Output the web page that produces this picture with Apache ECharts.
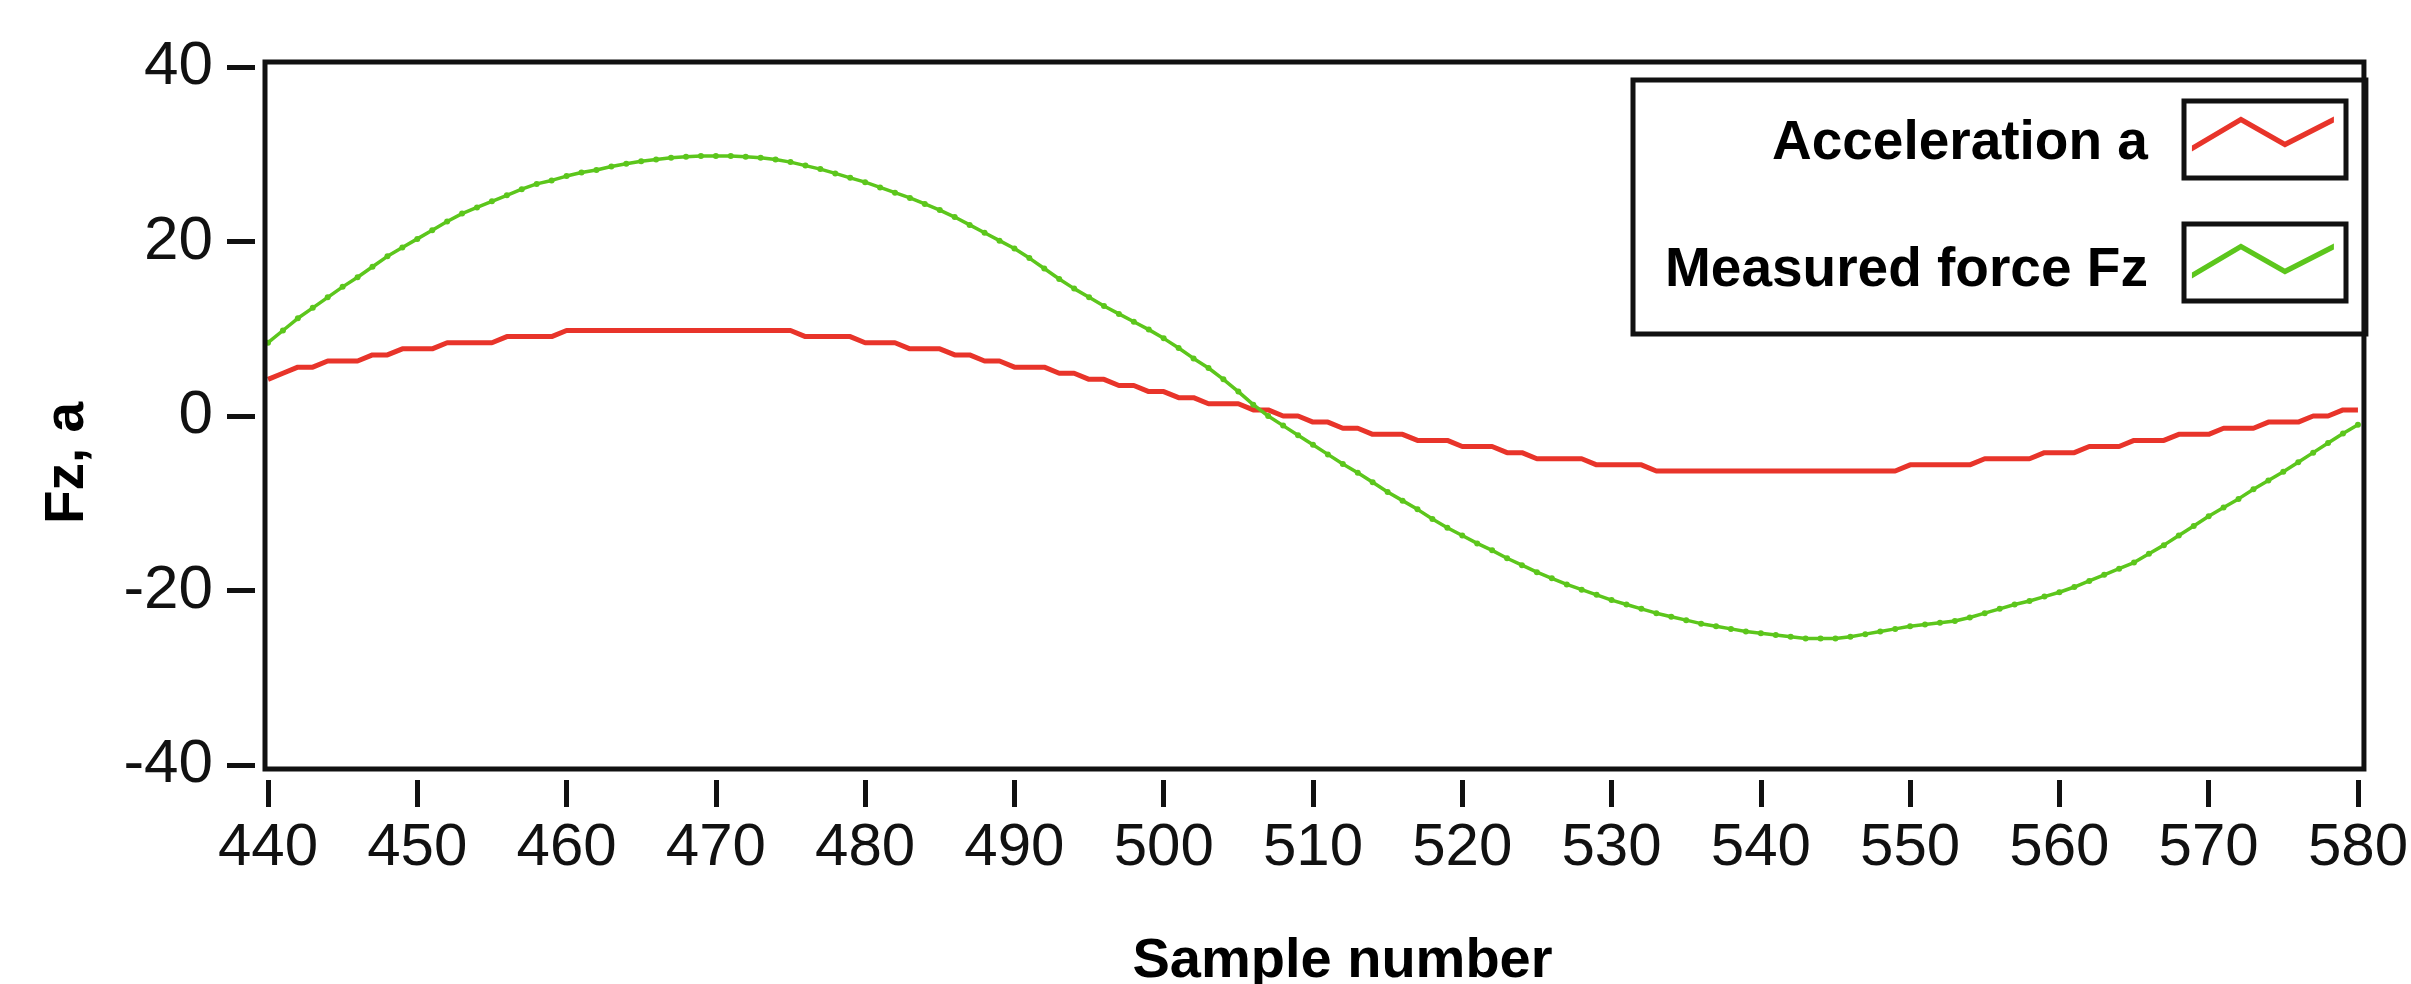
<!DOCTYPE html>
<html>
<head>
<meta charset="utf-8">
<title>Fz, a vs sample number</title>
<script src="https://cdn.jsdelivr.net/npm/echarts@6/dist/echarts.min.js"></script>
<style>
  html, body { margin: 0; padding: 0; background: #ffffff; }
  #chart { width: 2411px; height: 984px; }
</style>
</head>
<body>
<div id="chart"></div>
<script>
// Sample index of the first value in each series (one value per sample).
const firstSample = 440;

// Acceleration a, samples 440..580 (quantised sensor output)
const accelerationA = [
  4.2, 4.9, 5.6, 5.6, 6.3, 6.3, 6.3, 7.0, 7.0, 7.7,
  7.7, 7.7, 8.4, 8.4, 8.4, 8.4, 9.1, 9.1, 9.1, 9.1,
  9.8, 9.8, 9.8, 9.8, 9.8, 9.8, 9.8, 9.8, 9.8, 9.8,
  9.8, 9.8, 9.8, 9.8, 9.8, 9.8, 9.1, 9.1, 9.1, 9.1,
  8.4, 8.4, 8.4, 7.7, 7.7, 7.7, 7.0, 7.0, 6.3, 6.3,
  5.6, 5.6, 5.6, 4.9, 4.9, 4.2, 4.2, 3.5, 3.5, 2.8,
  2.8, 2.1, 2.1, 1.4, 1.4, 1.4, 0.7, 0.7, 0.0, 0.0,
  -0.7, -0.7, -1.4, -1.4, -2.1, -2.1, -2.1, -2.8, -2.8, -2.8,
  -3.5, -3.5, -3.5, -4.2, -4.2, -4.9, -4.9, -4.9, -4.9, -5.6,
  -5.6, -5.6, -5.6, -6.3, -6.3, -6.3, -6.3, -6.3, -6.3, -6.3,
  -6.3, -6.3, -6.3, -6.3, -6.3, -6.3, -6.3, -6.3, -6.3, -6.3,
  -5.6, -5.6, -5.6, -5.6, -5.6, -4.9, -4.9, -4.9, -4.9, -4.2,
  -4.2, -4.2, -3.5, -3.5, -3.5, -2.8, -2.8, -2.8, -2.1, -2.1,
  -2.1, -1.4, -1.4, -1.4, -0.7, -0.7, -0.7, 0.0, 0.0, 0.7,
  0.7
];

// Measured force Fz, samples 440..580
const measuredForceFz = [
  8.4, 9.8, 11.2, 12.4, 13.6, 14.8, 15.9, 17.1, 18.3, 19.3,
  20.3, 21.3, 22.3, 23.2, 23.9, 24.6, 25.3, 26.0, 26.6, 27.0,
  27.5, 27.9, 28.2, 28.6, 28.9, 29.2, 29.4, 29.6, 29.7, 29.8,
  29.8, 29.8, 29.7, 29.6, 29.4, 29.1, 28.7, 28.3, 27.8, 27.3,
  26.8, 26.2, 25.6, 25.0, 24.3, 23.6, 22.8, 21.9, 21.0, 20.1,
  19.2, 18.1, 16.9, 15.7, 14.6, 13.6, 12.6, 11.7, 10.8, 9.9,
  8.9, 7.8, 6.6, 5.5, 4.2, 2.8, 1.3, 0.0, -1.1, -2.2,
  -3.3, -4.4, -5.5, -6.5, -7.6, -8.7, -9.7, -10.7, -11.8, -12.8,
  -13.7, -14.6, -15.4, -16.3, -17.1, -17.9, -18.6, -19.3, -19.9, -20.5,
  -21.1, -21.6, -22.1, -22.6, -23.0, -23.4, -23.8, -24.1, -24.4, -24.7,
  -24.9, -25.1, -25.3, -25.5, -25.5, -25.5, -25.3, -25.0, -24.7, -24.4,
  -24.1, -23.9, -23.7, -23.5, -23.1, -22.6, -22.1, -21.6, -21.2, -20.7,
  -20.2, -19.6, -18.9, -18.2, -17.5, -16.8, -15.8, -14.8, -13.7, -12.6,
  -11.5, -10.5, -9.5, -8.4, -7.4, -6.4, -5.3, -4.2, -3.1, -2.0,
  -1.0
];

// Axis ranges and tick spacing
const xRange = [440, 580];
const xStep = 10;
const yRange = [-40, 40];
const yStep = 20;

const seriesNames = ['Acceleration a', 'Measured force Fz'];
const xTitle = 'Sample number';
const yTitle = 'Fz, a';

const RED = '#e8342a';
const GREEN = '#5cc61c';
const INK = '#111111';
const LABEL_FONT = '"Liberation Sans", Arial, sans-serif';
const BOLD = '"Liberation Sans", Arial, sans-serif';

const toPairs = arr => arr.map((v, i) => [firstSample + i, v]);

// zig-zag glyph used as the legend icon; the zero-area point at y=55 keeps
// the glyph in the upper part of the icon box so the label sits a bit lower
const zigzagIcon = 'path://M0,29L49,0L93,25L142,0L142,6L93,31L49,6L0,35Z' +
  'M0,55L0.01,55L0,55.01Z';

const chart = echarts.init(document.getElementById('chart'), null, { renderer: 'canvas' });

const option = {
  backgroundColor: '#ffffff',
  animation: false,
  grid: { left: 268, right: 37, top: 67, bottom: 219, containLabel: false },
  xAxis: {
    type: 'value',
    min: xRange[0], max: xRange[1], interval: xStep,
    offset: 15,
    axisLine: { show: false, onZero: false },
    axisTick: { show: true, length: 27, lineStyle: { color: INK, width: 5 } },
    axisLabel: { margin: 38, fontSize: 60, fontFamily: LABEL_FONT, color: INK },
    splitLine: { show: false }
  },
  yAxis: {
    type: 'value',
    min: yRange[0], max: yRange[1], interval: yStep,
    offset: 13,
    axisLine: { show: false, onZero: false },
    axisTick: { show: true, length: 28, lineStyle: { color: INK, width: 5 } },
    axisLabel: { margin: 42, fontSize: 62, fontFamily: LABEL_FONT, color: INK },
    splitLine: { show: false }
  },
  legend: {
    orient: 'vertical',
    align: 'right',
    left: 1633,
    top: 80,
    padding: [31, 32, 30, 32],
    itemWidth: 142,
    itemHeight: 55,
    itemGap: 61,
    icon: zigzagIcon,
    borderColor: INK,
    borderWidth: 5,
    backgroundColor: '#ffffff',
    data: seriesNames,
    textStyle: {
      fontFamily: BOLD, fontWeight: 'bold', fontSize: 55, color: '#000',
      lineHeight: 66, padding: [0, 39, 0, 0]
    }
  },
  series: [
    {
      name: seriesNames[0],
      type: 'line',
      data: toPairs(accelerationA),
      showSymbol: false,
      lineStyle: { color: RED, width: 5 },
      itemStyle: { color: RED },
      z: 2
    },
    {
      name: seriesNames[1],
      type: 'line',
      data: toPairs(measuredForceFz),
      showSymbol: true,
      symbol: 'circle',
      symbolSize: 6,
      lineStyle: { color: GREEN, width: 3.5 },
      itemStyle: { color: GREEN },
      z: 3
    }
  ]
};

chart.setOption(option);

// Plot frame, swatch boxes and axis titles, placed from the axis scales
const tl = chart.convertToPixel({ gridIndex: 0 }, [xRange[0], yRange[1]]);
const br = chart.convertToPixel({ gridIndex: 0 }, [xRange[1], yRange[0]]);
const frameLeft = tl[0] - 3, frameTop = tl[1] - 5;
const frameRight = br[0] + 6, frameBottom = br[1] + 4;

chart.setOption({
  graphic: [
    {
      type: 'rect', z: 10, silent: true,
      shape: { x: frameLeft, y: frameTop, width: frameRight - frameLeft, height: frameBottom - frameTop },
      style: { fill: null, stroke: INK, lineWidth: 5 }
    },
    {
      type: 'rect', z: 20, silent: true,
      shape: { x: 2184, y: 101, width: 162, height: 77 },
      style: { fill: null, stroke: INK, lineWidth: 5 }
    },
    {
      type: 'rect', z: 20, silent: true,
      shape: { x: 2184, y: 224, width: 162, height: 77 },
      style: { fill: null, stroke: INK, lineWidth: 5 }
    },
    {
      type: 'text', z: 10, silent: true,
      x: (frameLeft + frameRight) / 2 + 28, y: 962,
      style: {
        text: xTitle, fill: '#000', align: 'center', verticalAlign: 'middle',
        font: 'bold 56px ' + BOLD
      }
    },
    {
      type: 'text', z: 10, silent: true,
      x: 68, y: 463, rotation: Math.PI / 2,
      style: {
        text: yTitle, fill: '#000', align: 'center', verticalAlign: 'middle',
        font: 'bold 55px ' + BOLD
      }
    }
  ]
});
</script>
</body>
</html>
